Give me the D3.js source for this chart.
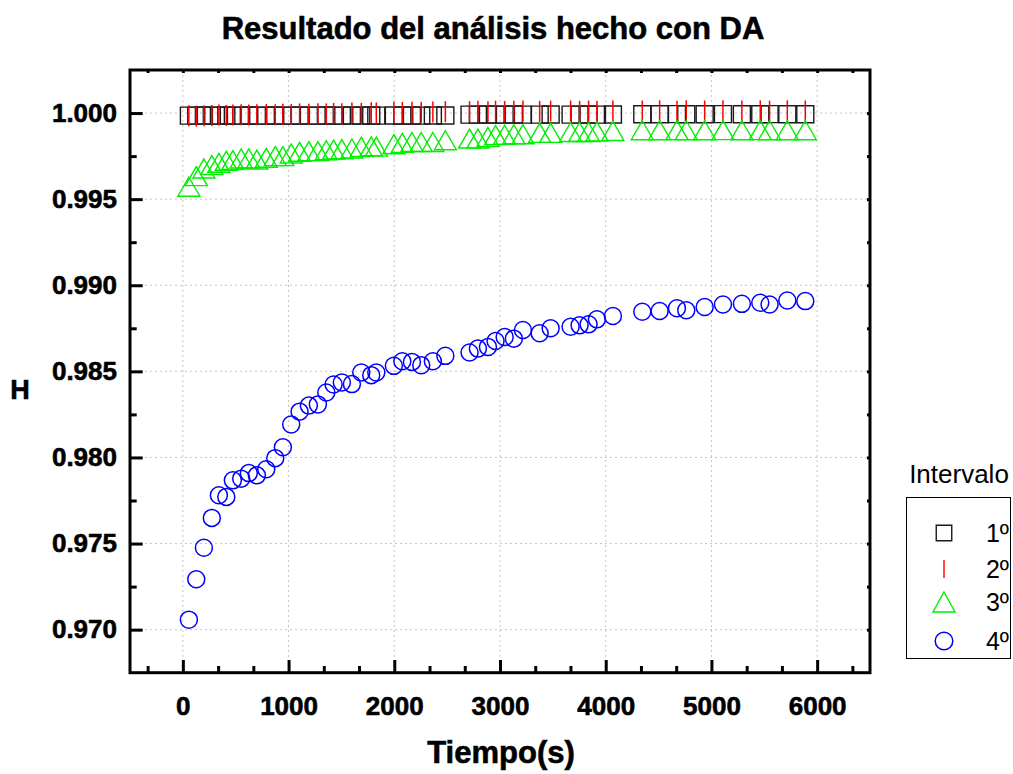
<!DOCTYPE html>
<html>
<head>
<meta charset="utf-8">
<script src="https://cdn.jsdelivr.net/npm/d3@7"></script>
<style>
  body { margin: 0; background: #fff; }
  text { font-family: "Liberation Sans", Arial, sans-serif; }
  .heavy { stroke: #000; stroke-width: 0.6px; }
</style>
</head>
<body>
<svg id="chart" width="1013" height="774"></svg>
<script>
// tiempos de medida (s), comunes a los cuatro intervalos
const tiempo = [57,127,199,274,341,411,473,552,624,700,789,874,946,1025,1104,1192,1277,1357,1426,1504,
  1599,1688,1782,1830,1996,2076,2167,2255,2365,2483,2712,2791,2886,2958,3044,3131,3217,3375,3479,3668,
  3753,3838,3917,4068,4346,4510,4674,4762,4936,5109,5288,5462,5550,5718,5888];

// 1º intervalo (cuadrados)
const h1 = [0.99985,0.99985,0.99986,0.99985,0.99985,0.99986,0.99985,0.99985,0.99986,0.99985,
  0.99985,0.99986,0.99985,0.99985,0.99986,0.99985,0.99985,0.99986,0.99985,0.99985,
  0.99986,0.99985,0.99986,0.99985,0.99986,0.99985,0.99986,0.99985,0.99986,0.99986,
  0.99991,0.99991,0.99992,0.99991,0.99991,0.99992,0.99991,0.99991,0.99992,0.99991,
  0.99991,0.99992,0.99991,0.99992,
  0.99993,0.99993,0.99994,0.99993,0.99993,0.99994,0.99993,0.99993,0.99994,0.99993,0.99993];

// 2º intervalo (barras rojas)
const h2 = [0.99984,0.99982,0.99985,0.99986,0.99988,0.99986,0.99988,0.99990,0.99988,0.99990,
  0.99992,0.99990,0.99993,0.99992,0.99995,0.99993,0.99996,0.99995,0.99998,0.99996,
  1.00000,0.99998,1.00002,1.00000,1.00004,1.00003,1.00005,1.00004,1.00006,1.00008,
  1.00008,1.00010,1.00008,1.00011,1.00009,1.00010,1.00012,1.00010,1.00011,1.00012,
  1.00010,1.00012,1.00011,1.00012,
  1.00012,1.00013,1.00011,1.00013,1.00012,1.00013,1.00012,1.00013,1.00011,1.00013,1.00012];

// 3º intervalo (triangulos)
const h3 = [0.99572,0.99634,0.99678,0.99698,0.99711,0.99723,0.99727,0.99736,0.99736,0.99730,
  0.99740,0.99750,0.99750,0.99765,0.99775,0.99779,0.99779,0.99784,0.99788,0.99790,
  0.99794,0.99803,0.99807,0.99805,0.99819,0.99827,0.99832,0.99832,0.99832,0.99842,
  0.99852,0.99852,0.99861,0.99872,0.99874,0.99877,0.99877,0.99885,0.99885,0.99890,
  0.99890,0.99890,0.99893,0.99896,
  0.99900,0.99900,0.99901,0.99900,0.99900,0.99901,0.99900,0.99901,0.99900,0.99900,0.99900];

// 4º intervalo (circulos)
const h4 = [0.97058,0.97293,0.97476,0.97649,0.97780,0.97771,0.97867,0.97877,0.97909,0.97896,
  0.97931,0.97996,0.98059,0.98191,0.98266,0.98301,0.98308,0.98377,0.98424,0.98435,
  0.98426,0.98493,0.98478,0.98493,0.98532,0.98559,0.98555,0.98536,0.98559,0.98590,
  0.98609,0.98632,0.98642,0.98676,0.98699,0.98690,0.98740,0.98721,0.98750,0.98759,
  0.98767,0.98773,0.98802,0.98821,
  0.98846,0.98850,0.98866,0.98855,0.98874,0.98888,0.98892,0.98898,0.98888,0.98911,0.98908];

const xMajor = [0,1000,2000,3000,4000,5000,6000];
const yMajor = [0.970,0.975,0.980,0.985,0.990,0.995,1.000];
const leyenda = ["1º","2º","3º","4º"];

const svg = d3.select("#chart");
const plotL = 130, plotR = 870, plotT = 70, plotB = 672.7;

const x = d3.scaleLinear().domain([-500, 6500]).range([plotL, plotR]);
const y = d3.scaleLinear().domain([0.9675, 1.0025]).range([plotB, plotT]);

// minor ticks: x every 1000/3, y every 0.0025
const xAll = d3.range(-1, 20).map(k => k * 1000 / 3);
const xMinor = d3.range(-1, 20).filter(k => k % 3 !== 0).map(k => k * 1000 / 3);
const yAll = d3.range(0, 13).map(k => 0.970 + k * 0.0025);
const yMinor = yAll.filter((d, i) => i % 2 === 1);

// grid (dotted)
const grid = svg.append("g").attr("stroke", "#c4c4c4").attr("stroke-width", 1).attr("stroke-dasharray", "2,3");
grid.selectAll("line.gx").data(xMajor).join("line").attr("class", "gx")
  .attr("x1", d => x(d)).attr("x2", d => x(d)).attr("y1", plotT).attr("y2", plotB);
grid.selectAll("line.gy").data(yMajor).join("line").attr("class", "gy")
  .attr("x1", plotL).attr("x2", plotR).attr("y1", d => y(d)).attr("y2", d => y(d));

// axes
function styleAxis(g, fs) {
  g.select(".domain").remove();
  g.selectAll(".tick line").attr("stroke", "#000").attr("stroke-width", 3);
  g.selectAll(".tick text").attr("fill", "#000").attr("font-size", fs).attr("font-weight", "bold")
    .attr("class", "heavy")
    .attr("font-family", "\"Liberation Sans\", Arial, sans-serif");
}

svg.append("g").attr("transform", "translate(0," + plotB + ")")
  .call(d3.axisBottom(x).tickValues(xMajor).tickSize(-12.7).tickPadding(24).tickFormat(d3.format("d")))
  .call(g => styleAxis(g, 26));
svg.append("g").attr("transform", "translate(0," + plotB + ")")
  .call(d3.axisBottom(x).tickValues(xMinor).tickSize(-6.7).tickFormat(""))
  .call(g => styleAxis(g, 26));
svg.append("g").attr("transform", "translate(0," + plotT + ")")
  .call(d3.axisTop(x).tickValues(xAll).tickSize(-3).tickFormat(""))
  .call(g => styleAxis(g, 26));

svg.append("g").attr("transform", "translate(" + plotL + ",0)")
  .call(d3.axisLeft(y).tickValues(yMajor).tickSize(-12.7).tickPadding(13).tickFormat(d3.format(".3f")))
  .call(g => styleAxis(g, 26));
svg.append("g").attr("transform", "translate(" + plotL + ",0)")
  .call(d3.axisLeft(y).tickValues(yMinor).tickSize(-6.7).tickFormat(""))
  .call(g => styleAxis(g, 26));
svg.append("g").attr("transform", "translate(" + plotR + ",0)")
  .call(d3.axisRight(y).tickValues(yAll).tickSize(-3).tickFormat(""))
  .call(g => styleAxis(g, 26));

// frame
svg.append("rect").attr("x", plotL).attr("y", plotT).attr("width", plotR - plotL).attr("height", plotB - plotT)
  .attr("fill", "none").attr("stroke", "#000").attr("stroke-width", 3);

// marker shapes
function squarePath(s) {
  const p = d3.path();
  p.rect(-s / 2, -s / 2, s, s);
  return p.toString();
}
function barPath(len) {
  const p = d3.path();
  p.moveTo(0, -len / 2);
  p.lineTo(0, len / 2);
  return p.toString();
}
function trianglePath(w, h) {
  // bounding box centred on the point
  const p = d3.path();
  p.moveTo(0, -h / 2);
  p.lineTo(w / 2, h / 2);
  p.lineTo(-w / 2, h / 2);
  p.closePath();
  return p.toString();
}

const series = [
  { vals: h1, d: squarePath(17), stroke: "#1a1a1a", sw: 1.4 },
  { vals: h2, d: barPath(21), stroke: "#ff0000", sw: 1.5 },
  { vals: h3, d: trianglePath(22, 19), stroke: "#00ee00", sw: 1.4 }
];

series.forEach(s => {
  svg.append("g").selectAll("path").data(tiempo).join("path")
    .attr("d", s.d)
    .attr("transform", (t, i) => "translate(" + x(t) + "," + y(s.vals[i]) + ")")
    .attr("fill", "none").attr("stroke", s.stroke).attr("stroke-width", s.sw);
});

svg.append("g").selectAll("circle").data(tiempo).join("circle")
  .attr("cx", t => x(t)).attr("cy", (t, i) => y(h4[i])).attr("r", 8.5)
  .attr("fill", "none").attr("stroke", "#0000ff").attr("stroke-width", 1.5);

// titles
svg.append("text").attr("x", 493).attr("y", 39).attr("text-anchor", "middle").attr("class", "heavy")
  .attr("font-size", 31).attr("font-weight", "bold").text("Resultado del análisis hecho con DA");
svg.append("text").attr("x", 501).attr("y", 763).attr("text-anchor", "middle").attr("class", "heavy")
  .attr("font-size", 31).attr("font-weight", "bold").text("Tiempo(s)");
svg.append("text").attr("x", 20).attr("y", 399).attr("text-anchor", "middle").attr("class", "heavy")
  .attr("font-size", 27).attr("font-weight", "bold").text("H");

// legend
svg.append("text").attr("x", 959).attr("y", 483).attr("text-anchor", "middle")
  .attr("font-size", 26).text("Intervalo");
svg.append("rect").attr("x", 906.5).attr("y", 497.5).attr("width", 104).attr("height", 161)
  .attr("fill", "none").attr("stroke", "#000").attr("stroke-width", 1);

const legMarks = [
  { d: squarePath(15.5), stroke: "#1a1a1a" },
  { d: barPath(18), stroke: "#ff0000" },
  { d: trianglePath(22, 20), stroke: "#00ee00" },
  { d: null, stroke: "#0000ff" }
];
const legY = [533, 569, 602, 641];
leyenda.forEach((lab, i) => {
  const m = legMarks[i];
  if (m.d) {
    svg.append("path").attr("d", m.d).attr("transform", "translate(944," + legY[i] + ")")
      .attr("fill", "none").attr("stroke", m.stroke).attr("stroke-width", 1.4);
  } else {
    svg.append("circle").attr("cx", 944).attr("cy", legY[i]).attr("r", 8.8)
      .attr("fill", "none").attr("stroke", m.stroke).attr("stroke-width", 1.5);
  }
  svg.append("text").attr("x", 1009).attr("y", legY[i] + 9).attr("text-anchor", "end")
    .attr("font-size", 25).text(lab);
});
</script>
</body>
</html>
